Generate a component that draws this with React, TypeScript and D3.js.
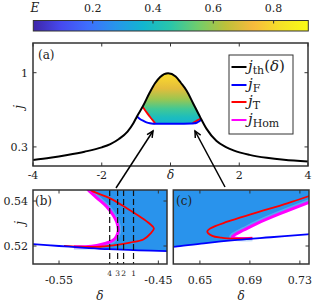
import React from 'react'
import * as d3 from 'd3'

// parula colour stops used by the colorbar and the fills
const parula = ['#3e26a8', '#4649ef', '#3e6ffe', '#2796eb', '#12b6cf', '#2ac6a9', '#71cd6b', '#bdc13a', '#f8ba3d', '#f5e228', '#f9fb14']
const eMin = 0.003
const eMax = 0.915
const eTicks = [0.2, 0.4, 0.6, 0.8]

// panel (a): threshold curve j_th(delta)
const jth: [number, number][] = [
  [-4, 0.177], [-3.5, 0.198], [-3, 0.224], [-2.5, 0.255], [-2, 0.296], [-1.75, 0.327],
  [-1.5, 0.375], [-1.25, 0.445], [-1.08, 0.523], [-0.98, 0.585], [-0.8, 0.685], [-0.6, 0.815],
  [-0.45, 0.9], [-0.3, 0.96], [-0.07, 0.995], [0.15, 0.965], [0.3, 0.905], [0.47, 0.83],
  [0.66, 0.71], [0.86, 0.583], [1.05, 0.47], [1.34, 0.355], [1.6, 0.3], [1.85, 0.265],
  [2.3, 0.225], [2.8, 0.197], [3.3, 0.178], [4, 0.162],
]
const jFa: [number, number][] = [
  [-0.975, 0.586], [-0.9, 0.566], [-0.8, 0.547], [-0.7, 0.532], [-0.6, 0.5225], [-0.5, 0.5186],
  [-0.3, 0.5185], [0, 0.519], [0.3, 0.5195], [0.6, 0.5205], [0.68, 0.5227], [0.737, 0.5253],
  [0.8, 0.535], [0.85, 0.545], [0.9, 0.56],
]
const jTaLeft: [number, number][] = [
  [-0.8, 0.675], [-0.7, 0.628], [-0.6, 0.585], [-0.52, 0.552], [-0.48, 0.537], [-0.46, 0.53],
  [-0.455, 0.527], [-0.462, 0.523], [-0.49, 0.5205],
]
const jTaRight: [number, number][] = [
  [0.69, 0.5235], [0.665, 0.5238], [0.656, 0.5264], [0.7, 0.535], [0.737, 0.5422], [0.8, 0.553], [0.89, 0.568],
]
// colour of the stable region, E against j
const fillJ = [0.52, 0.58, 0.66, 0.75, 0.85, 0.95, 1.0]
const fillE = [0.36, 0.41, 0.49, 0.6, 0.7, 0.79, 0.82]

// panel (b)
const jFb: [number, number][] = [
  [-0.58, 0.521], [-0.55, 0.52], [-0.52, 0.5191], [-0.5, 0.5186], [-0.47, 0.5181], [-0.44, 0.5177],
]
const jTb: [number, number][] = [
  [-0.519, 0.5455], [-0.5171, 0.5446], [-0.4986, 0.5412], [-0.4818, 0.5368], [-0.4684, 0.533], [-0.459, 0.53],
  [-0.4545, 0.5279], [-0.458, 0.5255], [-0.4651, 0.5229], [-0.4785, 0.5215], [-0.4953, 0.5203],
  [-0.512, 0.5196], [-0.53, 0.5197], [-0.545, 0.5201],
]
const jHb: [number, number][] = [
  [-0.5215, 0.5455], [-0.5205, 0.5449], [-0.5117, 0.5413], [-0.502, 0.5375], [-0.4956, 0.5338], [-0.4919, 0.5307],
  [-0.4903, 0.5271], [-0.4921, 0.5244], [-0.4953, 0.5227], [-0.5037, 0.5211], [-0.512, 0.5202],
  [-0.5238, 0.5197], [-0.535, 0.5197],
]
const dashB = [-0.499, -0.491, -0.485, -0.475]
const dashLabels = ['4', '3', '2', '1']

// panel (c)
const jFc: [number, number][] = [
  [0.628, 0.5196], [0.6306, 0.5197], [0.6532, 0.5212], [0.6799, 0.5227], [0.7066, 0.5239], [0.7359, 0.5252], [0.739, 0.5253],
]
const jTc: [number, number][] = [
  [0.739, 0.5425], [0.7199, 0.539], [0.6932, 0.5345], [0.6719, 0.5308], [0.6586, 0.5279], [0.6559, 0.5264],
  [0.6599, 0.5245], [0.667, 0.5237], [0.6719, 0.5234], [0.6852, 0.5233], [0.692, 0.5235],
]
const jHc: [number, number][] = [
  [0.739, 0.5398], [0.7146, 0.5345], [0.6959, 0.5301], [0.6852, 0.5271], [0.6786, 0.5252], [0.6759, 0.5241],
  [0.6785, 0.5235], [0.685, 0.5233], [0.692, 0.5234],
]

const font = 'DejaVu Serif'
const frame = '#333'

const App = () => {
  const xa = d3.scaleLinear().domain([-4, 4]).range([33, 308])
  const ya = d3.scaleLinear().domain([0.12, 1.28]).range([166, 43])
  const xb = d3.scaleLinear().domain([-0.5762, -0.4413]).range([33, 167])
  const yb = d3.scaleLinear().domain([0.512, 0.5449]).range([264, 190])
  const xc = d3.scaleLinear().domain([0.6287, 0.7373]).range([173.3, 309])
  const xe = d3.scaleLinear().domain([eMin, eMax]).range([33.3, 308.3])

  const colorE = d3
    .scaleLinear<string>()
    .domain(parula.map((_, i) => eMin + (i / (parula.length - 1)) * (eMax - eMin)))
    .range(parula)
    .interpolate(d3.interpolateRgb)

  const lineA = d3.line<[number, number]>().x(d => xa(d[0])).y(d => ya(d[1])).curve(d3.curveMonotoneX)
  const lineAc = d3.line<[number, number]>().x(d => xa(d[0])).y(d => ya(d[1])).curve(d3.curveCatmullRom)
  const areaA = d3.area<[number, number]>().x(d => xa(d[0])).y0(166).y1(d => ya(d[1])).curve(d3.curveMonotoneX)
  const polyA = d3.line<[number, number]>().x(d => xa(d[0])).y(d => ya(d[1]))

  const lineB = d3.line<[number, number]>().x(d => xb(d[0])).y(d => yb(d[1])).curve(d3.curveCatmullRom)
  const areaB = d3.area<[number, number]>().x(d => xb(d[0])).y0(d => yb(d[1])).y1(185).curve(d3.curveCatmullRom)
  const lineC = d3.line<[number, number]>().x(d => xc(d[0])).y(d => yb(d[1])).curve(d3.curveCatmullRom)
  const areaC = d3.area<[number, number]>().x(d => xc(d[0])).y0(d => yb(d[1])).y1(185).curve(d3.curveCatmullRom)

  const fillPts: [number, number][] = [
    [-0.8, 1.3], ...jTaLeft.slice(0, 7), [-0.3, 0.5185], [0, 0.519], [0.3, 0.5195], [0.6, 0.5205],
    [0.656, 0.522], ...jTaRight.slice(2), [0.89, 1.3],
  ]

  const white_b =
    `M${xb(-0.59)},185L${xb(jHb[0][0])},185` +
    lineB(jHb)!.replace('M', 'L') +
    `L${xb(-0.55)},${yb(0.52)}L${xb(-0.58)},${yb(0.521)}L${xb(-0.59)},${yb(0.521)}Z`
  const white_c =
    lineC(jHc)! +
    jFc.filter(d => d[0] > 0.695).map(d => `L${xc(d[0])},${yb(d[1])}`).join('') +
    `L${xc(0.745)},${yb(0.5253)}L${xc(0.745)},${yb(0.5398)}Z`

  const fillBC = colorE(0.27)

  const arrow = (x1: number, y1: number, x2: number, y2: number) => {
    const a = Math.atan2(y2 - y1, x2 - x1)
    const L = 7
    const s = 0.45
    const p1 = [x2 - L * Math.cos(a - s), y2 - L * Math.sin(a - s)]
    const p2 = [x2 - L * Math.cos(a + s), y2 - L * Math.sin(a + s)]
    return (
      <g stroke="#000" strokeWidth={1.5} fill="none">
        <line x1={x1} y1={y1} x2={x2} y2={y2} />
        <path d={`M${p1[0]},${p1[1]}L${x2},${y2}L${p2[0]},${p2[1]}`} />
      </g>
    )
  }

  const legendRows = [
    { c: '#000', y: 67, sub: 'th', extra: true },
    { c: '#0000ff', y: 85, sub: 'F', extra: false },
    { c: '#ff0000', y: 102, sub: 'T', extra: false },
    { c: '#ff00ff', y: 120, sub: 'Hom', extra: false },
  ]

  return (
    <svg width={314} height={303} style={{ display: 'block', position: 'absolute', left: 0, top: 0 }} fontFamily={font}>
      <defs>
        <linearGradient id="cbar" x1="0" x2="1" y1="0" y2="0">
          {parula.map((c, i) => (
            <stop key={i} offset={i / (parula.length - 1)} stopColor={c} />
          ))}
        </linearGradient>
        <linearGradient id="gA" gradientUnits="userSpaceOnUse" x1="0" x2="0" y1={ya(0.52)} y2={ya(1.0)}>
          {fillJ.map((j, i) => (
            <stop key={i} offset={(j - 0.52) / 0.48} stopColor={colorE(fillE[i])} />
          ))}
        </linearGradient>
        <clipPath id="underBlack">
          <path d={areaA(jth)!} />
        </clipPath>
        <clipPath id="clipA">
          <rect x={33} y={43} width={275} height={123} />
        </clipPath>
        <clipPath id="clipB">
          <rect x={33} y={190} width={134} height={74} />
        </clipPath>
        <clipPath id="clipC">
          <rect x={173.3} y={190} width={135.7} height={74} />
        </clipPath>
      </defs>
      <rect width={314} height={303} fill="#fff" />

      {/* colorbar */}
      <rect x={33.3} y={20.5} width={275} height={10.5} fill="url(#cbar)" stroke={frame} strokeWidth={1} />
      {eTicks.map(t => (
        <g key={t}>
          <line x1={xe(t)} x2={xe(t)} y1={20.5} y2={23.5} stroke={frame} strokeWidth={1} />
          <text x={xe(t)} y={12} fontSize={11} textAnchor="middle" fill="#222">
            {t.toFixed(1)}
          </text>
        </g>
      ))}
      <text x={35} y={12} fontSize={12} fontStyle="italic" textAnchor="middle" fill="#222">E</text>

      {/* panel (a) */}
      <g clipPath="url(#clipA)">
        <g clipPath="url(#underBlack)">
          <path d={polyA(fillPts)!} fill="url(#gA)" />
        </g>
        <path d={lineAc(jTaLeft)!} fill="none" stroke="#ff0000" strokeWidth={1.8} />
        <path d={lineAc(jTaRight)!} fill="none" stroke="#ff0000" strokeWidth={1.8} />
        <path d={lineAc(jFa)!} fill="none" stroke="#0000ff" strokeWidth={2} />
        <path d={lineA(jth)!} fill="none" stroke="#000" strokeWidth={2} />
      </g>
      <rect x={33} y={43} width={275} height={123} fill="none" stroke={frame} strokeWidth={1.5} />
      {[-4, -2, 0, 2, 4].map(t => (
        <g key={t} stroke={frame} strokeWidth={1}>
          <line x1={xa(t)} x2={xa(t)} y1={166} y2={162.5} />
          <line x1={xa(t)} x2={xa(t)} y1={43} y2={46.5} />
        </g>
      ))}
      {[0.3, 1].map(t => (
        <g key={t} stroke={frame} strokeWidth={1}>
          <line x1={33} x2={36.5} y1={ya(t)} y2={ya(t)} />
          <line x1={308} x2={304.5} y1={ya(t)} y2={ya(t)} />
        </g>
      ))}
      {[-4, -2, 2, 4].map(t => (
        <text key={t} x={xa(t)} y={179} fontSize={11} textAnchor="middle" fill="#222">
          {t}
        </text>
      ))}
      <text x={xa(0)} y={179} fontSize={12} fontStyle="italic" textAnchor="middle" fill="#222">δ</text>
      {[0.3, 1].map(t => (
        <text key={t} x={28} y={ya(t) + 4} fontSize={11} textAnchor="end" fill="#222">
          {t}
        </text>
      ))}
      <text x={0} y={0} fontSize={12} fontStyle="italic" textAnchor="middle" fill="#222" transform="translate(23,107) rotate(-90)">j</text>
      <text x={38} y={59} fontSize={12} fill="#222">(a)</text>

      {/* legend */}
      <rect x={229} y={55} width={64} height={79} fill="#fff" stroke={frame} strokeWidth={1} />
      {legendRows.map(r => (
        <g key={r.sub}>
          <line x1={231.5} x2={246.5} y1={r.y} y2={r.y} stroke={r.c} strokeWidth={2} />
          <text x={248} y={r.y + 4} fontSize={15} fill="#222">
            <tspan fontStyle="italic">j</tspan>
            <tspan fontSize={11} dy={3}>{r.sub}</tspan>
            {r.extra && (
              <>
                <tspan dy={-3}>(</tspan>
                <tspan fontStyle="italic">δ</tspan>
                <tspan>)</tspan>
              </>
            )}
          </text>
        </g>
      ))}

      {/* panel (b) */}
      <g clipPath="url(#clipB)">
        <path d={areaB(jFb)!} fill={fillBC} />
        <path d={lineB(jHb)!} fill="none" stroke="#86bdf7" strokeWidth={6} opacity={0.5} />
        <path d={white_b} fill="#fff" />
        <path d={lineB(jHb)!} fill="none" stroke="#ff00ff" strokeWidth={3} />
        <path d={lineB(jTb)!} fill="none" stroke="#ff0000" strokeWidth={1.8} />
        <path d={lineB(jFb)!} fill="none" stroke="#0000ff" strokeWidth={1.8} />
        {dashB.map(d => (
          <line key={d} x1={xb(d)} x2={xb(d)} y1={190} y2={264} stroke="#111" strokeWidth={1.2} strokeDasharray="6,3" />
        ))}
      </g>
      <rect x={33} y={190} width={134} height={74} fill="none" stroke={frame} strokeWidth={1.5} />
      {[-0.55, -0.45].map(t => (
        <g key={t} stroke={frame} strokeWidth={1}>
          <line x1={xb(t)} x2={xb(t)} y1={264} y2={260.5} />
          <line x1={xb(t)} x2={xb(t)} y1={190} y2={193.5} />
        </g>
      ))}
      {[0.52, 0.54].map(t => (
        <g key={t} stroke={frame} strokeWidth={1}>
          <line x1={33} x2={36.5} y1={yb(t)} y2={yb(t)} />
          <line x1={167} x2={163.5} y1={yb(t)} y2={yb(t)} />
          <line x1={173.3} x2={176.8} y1={yb(t)} y2={yb(t)} />
          <line x1={309} x2={305.5} y1={yb(t)} y2={yb(t)} />
        </g>
      ))}
      {[-0.55, -0.45].map(t => (
        <text key={t} x={xb(t)} y={284} fontSize={11} textAnchor="middle" fill="#222">
          {t.toFixed(2)}
        </text>
      ))}
      {dashB.map((d, i) => (
        <text key={d} x={xb(d)} y={276} fontSize={7.5} textAnchor="middle" fill="#222">
          {dashLabels[i]}
        </text>
      ))}
      {[0.52, 0.54].map(t => (
        <text key={t} x={28} y={yb(t) + 4} fontSize={11} textAnchor="end" fill="#222">
          {t.toFixed(2)}
        </text>
      ))}
      <text x={0} y={0} fontSize={12} fontStyle="italic" textAnchor="middle" fill="#222" transform="translate(24,223) rotate(-90)">j</text>
      <text x={xb(-0.509)} y={300} fontSize={12} fontStyle="italic" textAnchor="middle" fill="#222">δ</text>
      <text x={35} y={205} fontSize={12} fill="#222">(b)</text>

      {/* panel (c) */}
      <g clipPath="url(#clipC)">
        <path d={areaC(jFc)!} fill={fillBC} />
        <path d={lineC(jHc)!} fill="none" stroke="#86bdf7" strokeWidth={6} opacity={0.5} />
        <path d={white_c} fill="#fff" />
        <path d={lineC(jHc)!} fill="none" stroke="#ff00ff" strokeWidth={3} />
        <path d={lineC(jTc)!} fill="none" stroke="#ff0000" strokeWidth={1.8} />
        <path d={lineC(jFc)!} fill="none" stroke="#0000ff" strokeWidth={1.8} />
      </g>
      <rect x={173.3} y={190} width={135.7} height={74} fill="none" stroke={frame} strokeWidth={1.5} />
      {[0.65, 0.69, 0.73].map(t => (
        <g key={t}>
          <line x1={xc(t)} x2={xc(t)} y1={264} y2={260.5} stroke={frame} strokeWidth={1} />
          <line x1={xc(t)} x2={xc(t)} y1={190} y2={193.5} stroke={frame} strokeWidth={1} />
          <text x={xc(t)} y={284} fontSize={11} textAnchor="middle" fill="#222">
            {t.toFixed(2)}
          </text>
        </g>
      ))}
      <text x={241} y={300} fontSize={12} fontStyle="italic" textAnchor="middle" fill="#222">δ</text>
      <text x={176} y={205} fontSize={12} fill="#222">(c)</text>

      {/* zoom arrows */}
      {arrow(116, 188, 153, 131)}
      {arrow(225, 187, 195, 131)}
    </svg>
  )
}

export default App
